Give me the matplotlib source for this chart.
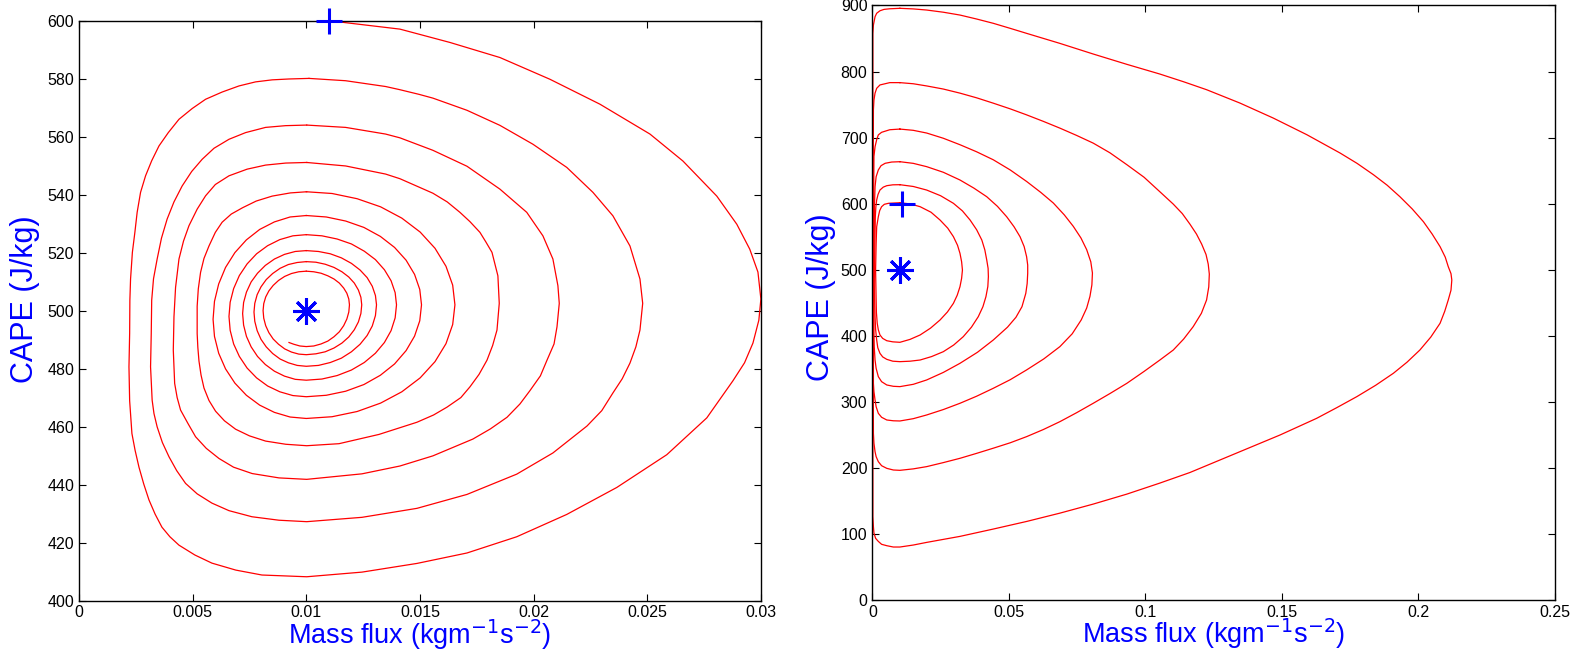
import matplotlib.pyplot as plt

plt.rcParams['font.family'] = ['Liberation Sans', 'DejaVu Sans']

# ---- left panel: damped spiral, one list of (mass flux, CAPE) per turn ----
turn0 = [(0.0110, 600.0), (0.01412, 597.1), (0.01632, 592.5), (0.01852, 587.3), (0.02072, 579.8),
         (0.02292, 571.2), (0.02512, 560.9), (0.02657, 551.6), (0.02806, 539.5), (0.02894, 529.8),
         (0.02951, 521.2), (0.02987, 513.3), (0.0300, 504.0), (0.02991, 496.7), (0.02965, 488.8),
         (0.02928, 482.0), (0.02877, 475.8), (0.02762, 463.0), (0.02586, 450.3), (0.02366, 439.0),
         (0.02146, 429.7), (0.01926, 422.0), (0.01707, 416.4), (0.01487, 412.8), (0.01245, 409.8),
         (0.01002, 408.2), (0.00805, 408.8), (0.0069, 410.5), (0.00585, 412.9), (0.0051, 415.7),
         (0.0044, 419.1), (0.0040, 422.0), (0.00365, 425.3), (0.00335, 429.8), (0.00308, 434.7),
         (0.00285, 440.2), (0.00264, 446.0), (0.00247, 451.8), (0.00233, 457.6), (0.00223, 468.9),
         (0.0022, 480.6), (0.00223, 492.2), (0.00224, 503.6), (0.00227, 510.9), (0.00235, 520.1),
         (0.00246, 527.0), (0.00256, 533.9), (0.00271, 540.8), (0.00293, 546.5), (0.0032, 551.7),
         (0.00352, 556.8), (0.00393, 561.4), (0.0044, 566.0), (0.00498, 569.7), (0.00557, 572.9),
         (0.0063, 575.4), (0.00704, 577.5), (0.00777, 578.9), (0.0085, 579.6), (0.00924, 579.9),
         (0.01012, 580.1)]
turn1 = [(0.01012, 580.1), (0.01173, 579.3), (0.01349, 577.3), (0.01412, 576.2), (0.01496, 574.6),
         (0.01557, 573.3), (0.01707, 569.1), (0.01852, 563.9), (0.01997, 557.4), (0.02146, 549.4),
         (0.02261, 540.8), (0.02349, 532.7), (0.02424, 522.3), (0.02468, 510.9), (0.0248, 502.5),
         (0.02468, 493.3), (0.0245, 487.5), (0.02424, 481.9), (0.0239, 476.5), (0.02349, 471.6),
         (0.0230, 465.5), (0.02235, 460.2), (0.02085, 450.9), (0.01926, 443.6), (0.01707, 436.6),
         (0.01487, 431.8), (0.01245, 428.7), (0.01002, 427.2), (0.0088, 427.7), (0.00761, 428.9),
         (0.0066, 431.0), (0.00585, 433.6), (0.0052, 436.8), (0.00469, 440.4), (0.0043, 444.8),
         (0.00396, 449.6), (0.00367, 454.5), (0.00344, 459.9), (0.0033, 464.5), (0.00322, 469.1),
         (0.00315, 480.6), (0.00318, 492.1), (0.0032, 503.6), (0.00328, 511.0), (0.00344, 517.8),
         (0.00363, 525.0), (0.00388, 531.6), (0.00418, 537.5), (0.00454, 543.0), (0.00496, 548.0),
         (0.00542, 552.2), (0.00594, 556.0), (0.0066, 559.1), (0.00733, 561.4), (0.00821, 563.2),
         (0.00909, 563.8), (0.01002, 564.0)]
turn2 = [(0.01002, 564.0), (0.01173, 563.2), (0.01349, 560.9), (0.01412, 559.6), (0.01557, 555.3),
         (0.01707, 549.8), (0.01852, 541.9), (0.0197, 533.9), (0.02041, 525.8), (0.02085, 517.8),
         (0.02107, 508.6), (0.02113, 502.5), (0.02103, 494.4), (0.0209, 488.5), (0.02059, 482.9),
         (0.0203, 477.5), (0.01984, 472.4), (0.0194, 467.8), (0.01883, 463.2), (0.0181, 459.2),
         (0.01733, 455.7), (0.01557, 449.9), (0.01412, 446.4), (0.01245, 443.7), (0.01002, 441.8),
         (0.0088, 442.3), (0.00762, 443.8), (0.0068, 446.0), (0.00616, 449.0), (0.0056, 452.5),
         (0.00513, 456.5), (0.0048, 461.0), (0.00447, 465.7), (0.00432, 470.0), (0.00421, 474.9),
         (0.00415, 486.4), (0.00418, 497.9), (0.00425, 508.0), (0.0044, 517.8), (0.0046, 524.0),
         (0.00484, 529.3), (0.0052, 535.0), (0.00557, 539.6), (0.0060, 543.5), (0.0066, 546.5),
         (0.0074, 548.8), (0.00821, 550.2), (0.0091, 550.9), (0.01002, 551.1)]
turn3 = [(0.01002, 551.1), (0.01173, 549.9), (0.01349, 547.1), (0.01412, 545.5), (0.01557, 540.5),
         (0.0162, 537.5), (0.01676, 533.9), (0.0172, 530.7), (0.01764, 527.0), (0.0179, 523.7),
         (0.01817, 520.1), (0.01843, 512.0), (0.01849, 502.5), (0.01839, 493.3), (0.0182, 488.0),
         (0.01795, 482.9), (0.0176, 478.0), (0.0172, 473.7), (0.0168, 470.0), (0.01619, 466.7),
         (0.0156, 464.0), (0.01487, 461.5), (0.0132, 457.3), (0.01144, 454.1), (0.01002, 453.4),
         (0.0091, 453.9), (0.00821, 455.0), (0.0075, 456.8), (0.00689, 459.1), (0.0064, 462.0),
         (0.00601, 465.3), (0.00572, 469.0), (0.0055, 473.3), (0.00537, 477.8), (0.00528, 482.6),
         (0.00523, 487.3), (0.0052, 492.1), (0.0052, 501.5), (0.00525, 507.5), (0.00535, 513.2),
         (0.0055, 518.0), (0.00572, 522.3), (0.0060, 527.0), (0.0063, 530.5), (0.0067, 533.3),
         (0.0072, 535.5), (0.0078, 537.8), (0.0085, 539.5), (0.0093, 540.6), (0.01002, 541.0)]
turn4 = [(0.0100, 541.0), (0.011135, 540.4), (0.012237, 538.6), (0.01327, 535.8), (0.014204, 531.9),
         (0.01501, 527.1), (0.015664, 521.5), (0.016146, 515.3), (0.016441, 508.8), (0.01654, 502.0),
         (0.016441, 495.2), (0.016146, 488.6), (0.015664, 482.4), (0.01501, 476.8), (0.014204, 472.0),
         (0.01327, 468.1), (0.012237, 465.2), (0.011135, 463.4), (0.0100, 462.8), (0.009288, 463.3),
         (0.008598, 464.9), (0.00795, 467.4), (0.007365, 470.8), (0.006859, 475.0), (0.006449, 479.9),
         (0.006147, 485.3), (0.005962, 491.1), (0.0059, 497.0), (0.005962, 503.2), (0.006147, 509.2),
         (0.006449, 514.9), (0.006859, 520.0), (0.007365, 524.4), (0.00795, 528.0), (0.008598, 530.6),
         (0.009288, 532.3), (0.0100, 532.8)]
turn5 = [(0.0100, 532.8), (0.01088, 532.3), (0.011734, 530.9), (0.012535, 528.7), (0.013259, 525.6),
         (0.013884, 521.8), (0.014391, 517.4), (0.014764, 512.5), (0.014993, 507.3), (0.01507, 502.0),
         (0.014993, 496.5), (0.014764, 491.2), (0.014391, 486.2), (0.013884, 481.6), (0.013259, 477.7),
         (0.012535, 474.5), (0.011734, 472.2), (0.01088, 470.8), (0.0100, 470.3), (0.00941, 470.7),
         (0.008837, 472.0), (0.0083, 474.0), (0.007814, 476.8), (0.007396, 480.2), (0.007056, 484.2),
         (0.006805, 488.5), (0.006652, 493.2), (0.0066, 498.0), (0.006652, 502.9), (0.006805, 507.6),
         (0.007056, 512.1), (0.007396, 516.1), (0.007814, 519.6), (0.0083, 522.4), (0.008837, 524.5),
         (0.00941, 525.8), (0.0100, 526.2)]
turn6 = [(0.0100, 526.2), (0.010689, 525.8), (0.011358, 524.7), (0.011985, 523.0), (0.012552, 520.5),
         (0.013041, 517.6), (0.013438, 514.1), (0.013731, 510.3), (0.01391, 506.2), (0.01397, 502.0),
         (0.01391, 497.5), (0.013731, 493.1), (0.013438, 489.0), (0.013041, 485.3), (0.012552, 482.1),
         (0.011985, 479.5), (0.011358, 477.6), (0.010689, 476.4), (0.0100, 476.0), (0.009514, 476.3),
         (0.009042, 477.4), (0.0086, 479.1), (0.0082, 481.4), (0.007855, 484.2), (0.007575, 487.5),
         (0.007369, 491.1), (0.007243, 495.0), (0.0072, 499.0), (0.007243, 502.8), (0.007369, 506.4),
         (0.007575, 509.9), (0.007855, 512.9), (0.0082, 515.6), (0.0086, 517.8), (0.009042, 519.4),
         (0.009514, 520.4), (0.0100, 520.7)]
turn7 = [(0.0100, 520.7), (0.010536, 520.4), (0.011057, 519.6), (0.011545, 518.2), (0.011986, 516.3),
         (0.012367, 514.0), (0.012676, 511.4), (0.012904, 508.4), (0.013043, 505.2), (0.01309, 502.0),
         (0.013043, 498.3), (0.012904, 494.7), (0.012676, 491.4), (0.012367, 488.4), (0.011986, 485.8),
         (0.011545, 483.6), (0.011057, 482.1), (0.010536, 481.1), (0.0100, 480.8), (0.009601, 481.1),
         (0.009213, 482.0), (0.00885, 483.3), (0.008522, 485.2), (0.008238, 487.5), (0.008008, 490.1),
         (0.007839, 493.1), (0.007735, 496.3), (0.0077, 499.5), (0.007735, 502.5), (0.007839, 505.5),
         (0.008008, 508.2), (0.008238, 510.7), (0.008522, 512.8), (0.00885, 514.6), (0.009213, 515.9),
         (0.009601, 516.6), (0.0100, 516.9)]
turn8 = [(0.0100, 516.9), (0.010424, 516.7), (0.010834, 516.0), (0.01122, 514.9), (0.011568, 513.4),
         (0.011869, 511.6), (0.012113, 509.5), (0.012293, 507.1), (0.012403, 504.6), (0.01244, 502.0),
         (0.012403, 499.0), (0.012293, 496.1), (0.012113, 493.4), (0.011869, 490.9), (0.011568, 488.8),
         (0.01122, 487.1), (0.010834, 485.8), (0.010424, 485.1), (0.0100, 484.8), (0.00967, 485.0),
         (0.00935, 485.7), (0.00905, 486.8), (0.008779, 488.4), (0.008545, 490.2), (0.008355, 492.4),
         (0.008215, 494.8), (0.008129, 497.4), (0.0081, 500.0), (0.008129, 502.4), (0.008215, 504.7),
         (0.008355, 506.8), (0.008545, 508.7), (0.008779, 510.4), (0.00905, 511.8), (0.00935, 512.8),
         (0.00967, 513.4), (0.0100, 513.6)]
turn9 = [(0.0100, 513.6), (0.01033, 513.4), (0.01065, 512.9), (0.01095, 512.0), (0.011221, 510.9),
         (0.011455, 509.5), (0.011645, 507.8), (0.011785, 506.0), (0.011871, 504.0), (0.0119, 502.0),
         (0.011871, 499.5), (0.011785, 497.1), (0.011645, 494.8), (0.011455, 492.7), (0.011221, 491.0),
         (0.01095, 489.5), (0.01065, 488.5), (0.01033, 487.8), (0.0100, 487.6), (0.00972, 487.8),
         (0.00945, 488.4), (0.00924, 489.0)]

# ---- right panel: closed orbits, innermost first ----
orbit1 = [(0.0101, 601.4), (0.0140, 599.5), (0.0175, 595.4), (0.0215, 587.0), (0.0248, 575.2),
          (0.0276, 563.0), (0.0297, 550.0), (0.0312, 537.0), (0.0321, 524.8), (0.0327, 512.0),
          (0.0330, 499.5), (0.0327, 487.0), (0.0321, 474.3), (0.0311, 461.5), (0.0297, 449.1),
          (0.0275, 436.0), (0.0248, 423.9), (0.0213, 411.5), (0.0175, 401.2), (0.0138, 394.5),
          (0.0101, 390.1), (0.0075, 390.8), (0.0053, 392.5), (0.0038, 396.0), (0.0028, 401.2),
          (0.0022, 409.0), (0.0018, 418.9), (0.0015, 435.0), (0.0014, 454.2), (0.0012, 499.5),
          (0.0014, 539.8), (0.0016, 565.0), (0.0022, 580.2), (0.0027, 589.5), (0.0034, 595.4),
          (0.0044, 599.0), (0.0059, 600.5), (0.0101, 601.4)]
orbit2 = [(0.0101, 628.7), (0.0150, 626.0), (0.0199, 620.6), (0.0250, 612.0), (0.0297, 600.5),
          (0.0330, 589.0), (0.0358, 575.2), (0.0382, 560.5), (0.0401, 544.9), (0.0412, 530.0),
          (0.0419, 514.7), (0.0424, 502.0), (0.0425, 489.4), (0.0423, 474.5), (0.0416, 459.1),
          (0.0405, 444.0), (0.0388, 428.9), (0.0363, 413.0), (0.0333, 398.6), (0.0298, 386.0),
          (0.0260, 375.9), (0.0217, 368.5), (0.0175, 363.3), (0.0138, 361.5), (0.0101, 360.8),
          (0.0075, 361.5), (0.0053, 364.3), (0.0038, 368.0), (0.0028, 373.4), (0.0020, 382.0),
          (0.0016, 393.6), (0.0012, 410.0), (0.0010, 428.9), (0.0007, 479.4), (0.0009, 529.8),
          (0.0011, 580.2), (0.0013, 595.0), (0.0016, 605.5), (0.0021, 614.0), (0.0028, 620.6),
          (0.0040, 625.0), (0.0053, 627.2), (0.0075, 628.5), (0.0101, 628.7)]
orbit3 = [(0.0101, 663.5), (0.0150, 661.0), (0.0199, 656.0), (0.0260, 647.5), (0.0321, 635.8),
          (0.0372, 623.5), (0.0419, 610.5), (0.0458, 596.0), (0.0492, 580.2), (0.0519, 565.0),
          (0.0541, 549.9), (0.0556, 535.0), (0.0565, 519.6), (0.0569, 507.0), (0.0569, 494.5),
          (0.0567, 479.0), (0.0562, 464.2), (0.0548, 444.0), (0.0526, 428.0), (0.0495, 413.0),
          (0.0443, 393.6), (0.0385, 375.0), (0.0321, 358.3), (0.0260, 344.5), (0.0199, 333.1),
          (0.0150, 326.5), (0.0101, 323.0), (0.0077, 323.5), (0.0053, 325.5), (0.0034, 330.5),
          (0.0022, 338.1), (0.0014, 350.7), (0.0010, 363.3), (0.0007, 383.5), (0.0006, 403.7),
          (0.0006, 500.0), (0.0008, 600.0), (0.0010, 625.6), (0.0014, 640.8), (0.0022, 651.0),
          (0.0032, 657.5), (0.0047, 661.1), (0.0071, 663.0), (0.0101, 663.5)]
orbit4 = [(0.0101, 712.9), (0.0150, 711.0), (0.0199, 706.9), (0.0260, 699.0), (0.0321, 689.2),
          (0.0382, 678.5), (0.0443, 666.4), (0.0505, 651.0), (0.0565, 633.6), (0.0617, 617.0),
          (0.0663, 600.9), (0.0703, 583.0), (0.0736, 565.6), (0.0764, 548.0), (0.0785, 530.3),
          (0.0800, 512.0), (0.0806, 495.0), (0.0804, 477.0), (0.0797, 459.7), (0.0785, 442.0),
          (0.0765, 424.0), (0.0732, 403.0), (0.0687, 383.6), (0.0628, 365.0), (0.0565, 348.3),
          (0.0505, 333.5), (0.0443, 320.5), (0.0382, 308.5), (0.0321, 297.8), (0.0260, 288.3),
          (0.0199, 280.1), (0.0150, 274.5), (0.0101, 271.0), (0.0077, 271.3), (0.0053, 272.5),
          (0.0034, 276.6), (0.0022, 282.6), (0.0014, 292.6), (0.0010, 302.8), (0.0006, 315.3),
          (0.0004, 328.0), (0.0004, 400.0), (0.0004, 550.0), (0.0006, 671.6), (0.0010, 686.2),
          (0.0016, 696.9), (0.0022, 704.1), (0.0034, 708.0), (0.0064, 711.9), (0.0101, 712.9)]
orbit5 = [(0.0101, 783.2), (0.0150, 781.5), (0.0199, 778.2), (0.0260, 773.5), (0.0321, 767.3),
          (0.0382, 760.2), (0.0443, 752.1), (0.0505, 743.5), (0.0565, 734.4), (0.0626, 724.6),
          (0.0687, 714.3), (0.0748, 703.3), (0.0809, 691.6), (0.0870, 677.0), (0.0932, 659.0),
          (0.0995, 640.0), (0.1053, 618.0), (0.1102, 599.3), (0.1135, 585.0), (0.1163, 569.0),
          (0.1187, 554.0), (0.1206, 538.8), (0.1222, 523.0), (0.1230, 508.5), (0.1234, 493.4),
          (0.1232, 474.0), (0.1224, 454.2), (0.1205, 434.0), (0.1175, 413.8), (0.1140, 395.0),
          (0.1102, 378.4), (0.1053, 363.3), (0.0995, 346.0), (0.0932, 328.0), (0.0870, 312.5),
          (0.0809, 297.8), (0.0748, 283.5), (0.0687, 270.0), (0.0626, 258.0), (0.0565, 247.3),
          (0.0505, 238.0), (0.0443, 229.8), (0.0382, 222.0), (0.0321, 214.5), (0.0260, 208.0),
          (0.0199, 201.9), (0.0150, 198.5), (0.0101, 196.3), (0.0077, 196.8), (0.0053, 199.3),
          (0.0034, 203.3), (0.0022, 209.4), (0.0014, 217.0), (0.0010, 224.5), (0.0006, 237.2),
          (0.0004, 252.3), (0.0003, 400.0), (0.0003, 600.0), (0.0004, 742.0), (0.0006, 756.9),
          (0.0010, 767.3), (0.0016, 774.6), (0.0028, 779.7), (0.0064, 783.2), (0.0101, 783.2)]
orbit6 = [(0.0101, 895.7), (0.0150, 894.8), (0.0199, 893.1), (0.0260, 889.8), (0.0321, 885.5),
          (0.0382, 879.5), (0.0443, 873.0), (0.0504, 865.5), (0.0565, 857.8), (0.0687, 842.6),
          (0.0809, 826.5), (0.0932, 810.9), (0.1053, 796.2), (0.1140, 784.5), (0.1224, 772.5),
          (0.1346, 752.3), (0.1468, 729.6), (0.1591, 704.4), (0.1713, 676.6), (0.1775, 661.0),
          (0.1835, 643.8), (0.1885, 628.0), (0.1932, 610.5), (0.1977, 592.0), (0.2018, 572.7),
          (0.2050, 554.0), (0.2079, 534.9), (0.2098, 519.0), (0.2109, 504.6), (0.2119, 494.0),
          (0.2122, 484.4), (0.2119, 469.0), (0.2109, 454.2), (0.2096, 437.0), (0.2079, 418.9),
          (0.2045, 398.0), (0.2005, 378.4), (0.1958, 360.0), (0.1908, 343.2), (0.1843, 325.0),
          (0.1774, 307.8), (0.1700, 291.0), (0.1627, 275.0), (0.1493, 249.8), (0.1346, 224.5),
          (0.1163, 193.0), (0.1053, 177.0), (0.0932, 160.3), (0.0809, 145.2), (0.0687, 131.5),
          (0.0565, 118.9), (0.0443, 107.4), (0.0321, 96.3), (0.0199, 87.2), (0.0150, 83.2),
          (0.0101, 80.2), (0.0077, 80.2), (0.0053, 82.2), (0.0034, 84.3), (0.0022, 88.7),
          (0.0012, 93.4), (0.0006, 101.3), (0.0004, 111.0), (0.0002, 126.2), (0.0002, 400.0),
          (0.0002, 700.0), (0.0002, 857.8), (0.0004, 870.4), (0.0010, 883.0), (0.0016, 888.2),
          (0.0028, 892.0), (0.0043, 894.1), (0.0064, 895.0), (0.0101, 895.7)]

start_point = (0.011, 600)
equilibrium = (0.010, 500)

left_xticks = [0, 0.005, 0.01, 0.015, 0.02, 0.025, 0.03]
left_yticks = [400, 420, 440, 460, 480, 500, 520, 540, 560, 580, 600]
right_xticks = [0, 0.05, 0.1, 0.15, 0.2, 0.25]
right_yticks = [0, 100, 200, 300, 400, 500, 600, 700, 800, 900]

xlabel = r'Mass flux (kgm$^{-1}$s$^{-2}$)'
ylabel = 'CAPE (J/kg)'

fig = plt.figure(figsize=(15.76, 6.68), dpi=100)
ax1 = fig.add_axes([0.0501, 0.101, 0.4327, 0.868])
ax2 = fig.add_axes([0.5535, 0.1018, 0.4332, 0.890])

for turn in [turn0, turn1, turn2, turn3, turn4, turn5, turn6, turn7, turn8, turn9]:
    xs, ys = zip(*turn)
    ax1.plot(xs, ys, color='red', lw=0.9)

for orbit in [orbit1, orbit2, orbit3, orbit4, orbit5, orbit6]:
    xs, ys = zip(*orbit)
    ax2.plot(xs, ys, color='red', lw=0.9)

asterisk = (8, 2, 0)
for ax in (ax1, ax2):
    ax.plot(*start_point, marker='+', color='blue', markersize=19, mew=2.2, clip_on=False, zorder=5)
    ax.plot(*equilibrium, marker=asterisk, color='blue', markersize=19, mew=2.2, zorder=5)
    ax.tick_params(direction='in', top=True, right=True, length=5, labelsize=11.5, width=0.8)
    ax.set_xlabel(xlabel, color='blue', fontsize=19.5, va='center')
    ax.set_ylabel(ylabel, color='blue', fontsize=22, va='center')
    for s in ax.spines.values():
        s.set_linewidth(1.0)

ax1.xaxis.set_label_coords(0.5, -0.059)
ax1.yaxis.set_label_coords(-0.0792, 0.52)
ax2.xaxis.set_label_coords(0.5, -0.0575)
ax2.yaxis.set_label_coords(-0.0751, 0.51)

ax1.set_xlim(0, 0.03)
ax1.set_ylim(400, 600)
ax1.set_xticks(left_xticks)
ax1.set_xticklabels(['0', '0.005', '0.01', '0.015', '0.02', '0.025', '0.03'])
ax1.set_yticks(left_yticks)

ax2.set_xlim(0, 0.25)
ax2.set_ylim(0, 900)
ax2.set_xticks(right_xticks)
ax2.set_xticklabels(['0', '0.05', '0.1', '0.15', '0.2', '0.25'])
ax2.set_yticks(right_yticks)

fig.savefig('out.png', dpi=100)
